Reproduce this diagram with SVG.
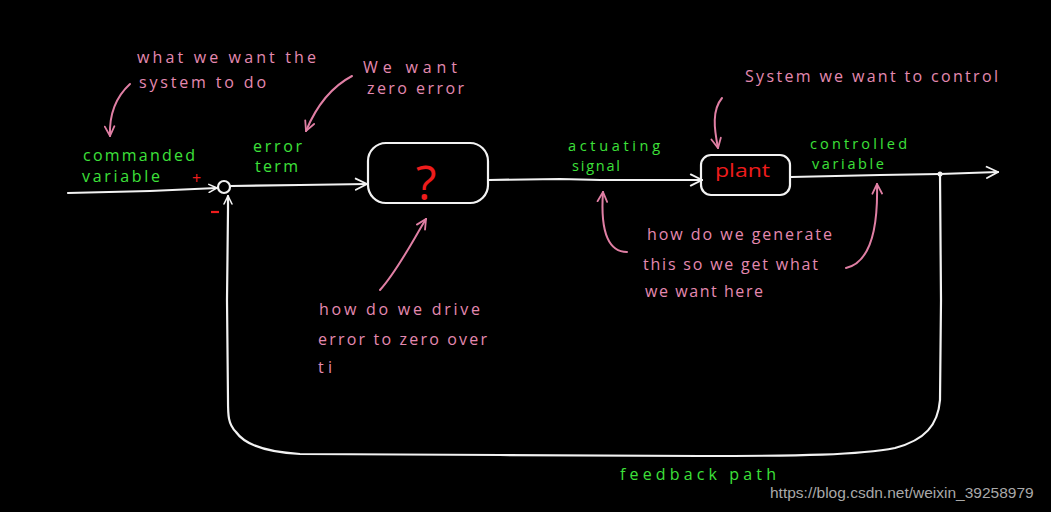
<svg xmlns="http://www.w3.org/2000/svg" width="1051" height="512" viewBox="0 0 1051 512">
<style>
.bg{fill:#000}
.w{fill:none;stroke:#f2f2f2;stroke-width:2.2;stroke-linecap:round;stroke-linejoin:round}
.p{fill:none;stroke:#e07fa4;stroke-width:2;stroke-linecap:round;stroke-linejoin:round}
.pt{fill:#e489b0;font-family:"Open Sans","DejaVu Sans",sans-serif;font-size:16px}
.gt{fill:#3de13a;font-family:"Open Sans","DejaVu Sans",sans-serif;font-size:16px}
.gs{font-size:14.5px}
.rt{fill:#ee1c1c;font-family:"Open Sans","DejaVu Sans",sans-serif}
.wm{fill:#a9a9a9;font-family:"Liberation Sans",Arial,sans-serif;font-size:15.5px}
</style>
<defs>
<marker id="aw" viewBox="0 0 10 10" refX="9" refY="5" markerWidth="10" markerHeight="10" markerUnits="userSpaceOnUse" orient="auto"><path d="M1,1 L9,5 L1,9" fill="none" stroke="#f2f2f2" stroke-width="1.6" stroke-linecap="round"/></marker>
<marker id="awl" viewBox="0 0 10 10" refX="9" refY="5" markerWidth="14" markerHeight="14" markerUnits="userSpaceOnUse" orient="auto"><path d="M1,1 L9,5 L1,9" fill="none" stroke="#f2f2f2" stroke-width="1.3" stroke-linecap="round"/></marker>
<marker id="ap" viewBox="0 0 10 10" refX="9" refY="5" markerWidth="12" markerHeight="12" markerUnits="userSpaceOnUse" orient="auto"><path d="M1,1 L9,5 L1,9" fill="none" stroke="#e07fa4" stroke-width="1.5" stroke-linecap="round"/></marker>
</defs>
<rect class="bg" x="0" y="0" width="1051" height="512"/>

<g id="connectors">
<path class="w" d="M68,193 L150,191 L217,188" marker-end="url(#aw)"/>
<path class="w" d="M231,186 L300,185 L367,184" marker-end="url(#awl)"/>
<path class="w" d="M489,180 L560,179 L600,180 L702,180" marker-end="url(#awl)"/>
<path class="w" d="M791,177 L880,175 L940,174 L998,172" marker-end="url(#awl)"/>
<path class="w" d="M940,174 L941,300 L940,400 C938,425 925,440 895,448 C860,455 800,456 700,456 L500,455 L300,454 C265,452 245,445 236,432 C228,424 228,415 228,400 L227,300 L228,210 L228,196" marker-end="url(#aw)"/>
<circle cx="940" cy="174" r="2.5" fill="#f2f2f2"/>
</g>

<g id="sum">
<circle class="w" cx="224" cy="187" r="6"/>
<text class="rt" x="192" y="184" font-size="16">+</text>
<path d="M211,212 L219,212" stroke="#ee1c1c" stroke-width="2.2"/>
</g>

<g id="controller">
<rect class="w" x="368" y="143" width="120" height="60" rx="18"/>
<text class="rt" x="426" y="200" font-size="48" text-anchor="middle">?</text>
</g>

<g id="plant">
<rect class="w" x="701" y="155" width="89" height="40" rx="10"/>
<text class="rt" x="715" y="177" font-size="18" textLength="55" lengthAdjust="spacingAndGlyphs">plant</text>
</g>

<g id="labels-green">
<text class="gt" x="83" y="161" textLength="112">commanded</text>
<text class="gt" x="82" y="182" textLength="78">variable</text>
<text class="gt" x="253" y="152" textLength="49">error</text>
<text class="gt" x="255" y="172" textLength="43">term</text>
<text class="gt gs" x="568" y="151" textLength="92">actuating</text>
<text class="gt gs" x="572" y="171" textLength="48">signal</text>
<text class="gt gs" x="810" y="149" textLength="97">controlled</text>
<text class="gt gs" x="812" y="169" textLength="72">variable</text>
<text class="gt" x="620" y="480" textLength="156">feedback path</text>
</g>

<g id="annotations">
<text class="pt" x="137" y="63" textLength="179">what we want the</text>
<text class="pt" x="139" y="88" textLength="127">system to do</text>
<path class="p" d="M130,84 C118,95 109,112 110,136" marker-end="url(#ap)"/>
<text class="pt" x="363" y="73" textLength="94">We want</text>
<text class="pt" x="367" y="94" textLength="97">zero error</text>
<path class="p" d="M352,76 C335,85 318,102 306,131" marker-end="url(#ap)"/>
<text class="pt" x="745" y="82" textLength="253">System we want to control</text>
<path class="p" d="M722,98 C712,110 714,128 718,148" marker-end="url(#ap)"/>
<text class="pt" x="647" y="240" textLength="185">how do we generate</text>
<text class="pt" x="643" y="270" textLength="175">this so we get what</text>
<text class="pt" x="645" y="297" textLength="118">we want here</text>
<path class="p" d="M627,252 C610,252 600,235 603,192" marker-end="url(#ap)"/>
<path class="p" d="M846,268 C872,262 878,225 877,184" marker-end="url(#ap)"/>
<text class="pt" x="319" y="315" textLength="161">how do we drive</text>
<text class="pt" x="318" y="345" textLength="169">error to zero over</text>
<text class="pt" x="318" y="373" textLength="14">ti</text>
<path class="p" d="M380,290 C398,270 413,240 426,219" marker-end="url(#ap)"/>
</g>

<text class="wm" x="770" y="498">https://blog.csdn.net/weixin_39258979</text>
</svg>
